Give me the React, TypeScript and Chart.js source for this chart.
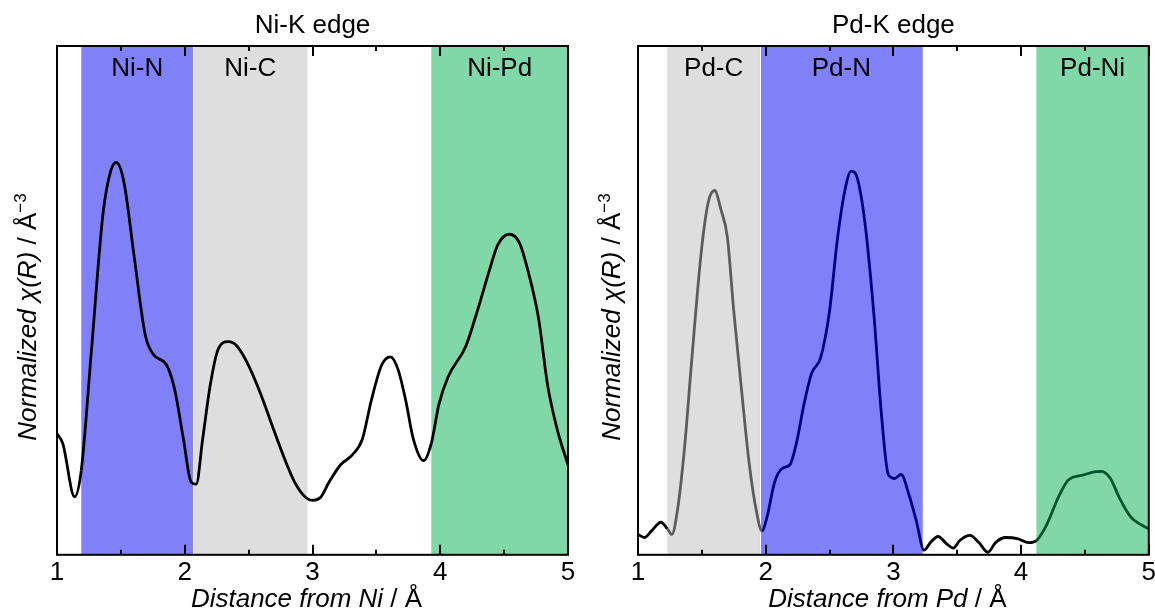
import React, { useEffect, useRef } from "react";
import { Chart, registerables } from "chart.js";

Chart.register(...registerables);

// ---------- data ----------
const niX = [1.0, 1.045, 1.138, 1.19, 1.27, 1.36, 1.42, 1.465, 1.525, 1.6, 1.69, 1.75, 1.86, 1.92, 1.99, 2.05, 2.09, 2.14, 2.2, 2.26, 2.34, 2.41, 2.5, 2.59, 2.68, 2.77, 2.86, 2.95, 3.0, 3.06, 3.13, 3.22, 3.31, 3.39, 3.46, 3.54, 3.61, 3.67, 3.73, 3.79, 3.87, 3.93, 3.99, 4.06, 4.2, 4.29, 4.38, 4.45, 4.54, 4.62, 4.69, 4.77, 4.84, 4.92, 5.0];
const niY = [23.8, 21.9, 11.4, 16.6, 40.3, 67, 75.4, 77.1, 73.1, 59.4, 43.3, 39.5, 37.2, 32.6, 22.7, 14.3, 13.9, 22.7, 33.4, 40.3, 41.9, 41, 37.2, 31.9, 25.7, 19.6, 14.3, 11.2, 10.7, 11.2, 14.3, 17.7, 19.6, 22.7, 30.3, 37.2, 38.9, 36.4, 30.3, 22.7, 18.5, 21.9, 29.6, 34.9, 41, 47.9, 55.5, 60.9, 63, 61.3, 55.5, 46.4, 33.4, 24.2, 17.7];

const pdX = [1.0, 1.05, 1.106, 1.18, 1.23, 1.265, 1.31, 1.365, 1.42, 1.495, 1.55, 1.6, 1.65, 1.7, 1.75, 1.81, 1.87, 1.93, 1.97, 2.01, 2.07, 2.13, 2.19, 2.24, 2.3, 2.36, 2.43, 2.5, 2.56, 2.62, 2.67, 2.72, 2.78, 2.85, 2.905, 2.96, 3.01, 3.06, 3.12, 3.18, 3.24, 3.29, 3.35, 3.42, 3.47, 3.52, 3.6, 3.67, 3.74, 3.8, 3.88, 3.97, 4.06, 4.12, 4.2, 4.29, 4.37, 4.49, 4.57, 4.63, 4.7, 4.77, 4.86, 4.94, 5.0];
const pdY = [4.0, 3.4, 4.7, 6.4, 5.1, 4.0, 8.9, 21.2, 38, 59.4, 69.3, 71.6, 67.8, 62.4, 47.9, 32.6, 18.1, 8.2, 4.7, 7.4, 14.3, 17, 17.7, 21.9, 29.6, 35.7, 38.7, 47.9, 61.7, 71.6, 75.4, 73.8, 64.7, 46.4, 28, 15.8, 15, 15.8, 12, 6.6, 0.9, 2.4, 3.6, 2.1, 1.3, 2.8, 3.8, 2.4, 0.5, 2.4, 3.4, 3.2, 2.4, 2.8, 5.9, 11.2, 14.7, 15.7, 16.3, 16.4, 15, 11.2, 7.4, 5.9, 5.1];

const xTicks = [1, 2, 3, 4, 5];
const xMinorTicks = [1.5, 2.5, 3.5, 4.5];

const niBandStart = [1.19, 2.065, 3.93];
const niBandEnd = [2.065, 2.96, 5.0];
const niBandLabels = ["Ni-N", "Ni-C", "Ni-Pd"];

const pdBandStart = [1.23, 1.955, 4.12];
const pdBandEnd = [1.955, 3.23, 5.0];
const pdBandLabels = ["Pd-C", "Pd-N", "Pd-Ni"];

// ---------- styles ----------
const BLUE = "#8080f8";
const GRAY = "#dedede";
const GREEN = "#80d7a8";
const niBandFill = [BLUE, GRAY, GREEN];
const niBandLine = ["#000000", "#000000", "#000000"];
const pdBandFill = [GRAY, BLUE, GREEN];
const pdBandLine = ["#5c5c5c", "#000080", "#00522b"];

const FONT = '"Liberation Sans", Arial, "DejaVu Sans", sans-serif';

type Panel = {
  xs: number[];
  ys: number[];
  starts: number[];
  ends: number[];
  labels: string[];
  fills: string[];
  lines: string[];
  title: string;
  xTitleItalic: string;
  padLeft: number;
  padRight: number;
  yTitleGap: number;
};

function makePlugin(p: Panel) {
  return {
    id: "decor",
    beforeDatasetsDraw(chart: any) {
      const { ctx, chartArea: a, scales } = chart;
      const xs = scales.x;
      ctx.save();
      for (let i = 0; i < p.starts.length; i++) {
        const x0 = xs.getPixelForValue(p.starts[i]);
        const x1 = xs.getPixelForValue(p.ends[i]);
        ctx.fillStyle = p.fills[i];
        ctx.fillRect(x0, a.top, x1 - x0, a.bottom - a.top);
      }
      ctx.strokeStyle = "#ffffff";
      ctx.lineWidth = 1;
      for (let i = 1; i < p.starts.length; i++) {
        if (Math.abs(p.starts[i] - p.ends[i - 1]) < 1e-6) {
          const x = Math.round(xs.getPixelForValue(p.starts[i])) + 0.5;
          ctx.beginPath();
          ctx.moveTo(x, a.top);
          ctx.lineTo(x, a.bottom);
          ctx.stroke();
        }
      }
      ctx.fillStyle = "#000";
      ctx.font = `26px ${FONT}`;
      ctx.textAlign = "center";
      ctx.textBaseline = "alphabetic";
      for (let i = 0; i < p.starts.length; i++) {
        const cx = (xs.getPixelForValue(p.starts[i]) + xs.getPixelForValue(p.ends[i])) / 2;
        ctx.fillText(p.labels[i], cx, a.top + 30);
      }
      ctx.restore();
    },
    afterDraw(chart: any) {
      const { ctx, chartArea: a, scales } = chart;
      const xs = scales.x;
      ctx.save();
      ctx.strokeStyle = "#000";
      ctx.lineWidth = 2;
      ctx.strokeRect(a.left, a.top, a.right - a.left, a.bottom - a.top);
      const drawTick = (v: number, len: number) => {
        const x = Math.round(xs.getPixelForValue(v));
        ctx.beginPath();
        ctx.moveTo(x, a.bottom);
        ctx.lineTo(x, a.bottom - len);
        ctx.moveTo(x, a.top);
        ctx.lineTo(x, a.top + len);
        ctx.stroke();
      };
      xs.ticks.forEach((t: any) => drawTick(t.value, 10));
      xMinorTicks.forEach((v) => drawTick(v, 5));

      ctx.fillStyle = "#000";
      ctx.textAlign = "center";
      ctx.textBaseline = "alphabetic";
      ctx.font = `26px ${FONT}`;
      const cx = (a.left + a.right) / 2;
      ctx.fillText(p.title, cx, 33);

      const it = `italic 26px ${FONT}`;
      const rg = `26px ${FONT}`;
      const xParts = [
        { t: p.xTitleItalic, f: it },
        { t: " / Å", f: rg },
      ];
      let w = 0;
      xParts.forEach((q) => {
        ctx.font = q.f;
        w += ctx.measureText(q.t).width;
      });
      ctx.textAlign = "left";
      let x = cx - 6 - w / 2;
      xParts.forEach((q) => {
        ctx.font = q.f;
        ctx.fillText(q.t, x, 607);
        x += ctx.measureText(q.t).width;
      });

      const yParts = [
        { t: "Normalized χ(R)", f: it, dy: 0 },
        { t: " / Å", f: rg, dy: 0 },
        { t: "−3", f: `17px ${FONT}`, dy: -10 },
      ];
      let yw = 0;
      yParts.forEach((q) => {
        ctx.font = q.f;
        yw += ctx.measureText(q.t).width;
      });
      ctx.translate(a.left - p.yTitleGap, 317);
      ctx.rotate(-Math.PI / 2);
      let px = -yw / 2;
      yParts.forEach((q) => {
        ctx.font = q.f;
        ctx.fillText(q.t, px, q.dy);
        px += ctx.measureText(q.t).width;
      });
      ctx.restore();
    },
  };
}

function bandIndex(p: Panel, v: number) {
  for (let i = 0; i < p.starts.length; i++) {
    if (v >= p.starts[i] && v <= p.ends[i]) return i;
  }
  return -1;
}

function PanelChart({ p, width }: { p: Panel; width: number }) {
  const ref = useRef<HTMLCanvasElement | null>(null);
  useEffect(() => {
    if (!ref.current) return;
    const data = p.xs.map((x, i) => ({ x, y: p.ys[i] }));
    const chart = new Chart(ref.current, {
      type: "line",
      data: {
        datasets: [
          {
            data,
            borderColor: "#000",
            borderWidth: 2.8,
            pointRadius: 0,
            fill: false,
            cubicInterpolationMode: "monotone",
            segment: {
              borderColor: (ctx: any) => {
                const mid = (ctx.p0.parsed.x + ctx.p1.parsed.x) / 2;
                const i = bandIndex(p, mid);
                return i < 0 ? "#000" : p.lines[i];
              },
            },
          } as any,
        ],
      },
      options: {
        animation: false,
        responsive: false,
        maintainAspectRatio: false,
        layout: { padding: { left: p.padLeft, right: p.padRight, top: 46, bottom: 20 } },
        plugins: { legend: { display: false }, tooltip: { enabled: false }, title: { display: false } },
        scales: {
          x: {
            type: "linear",
            min: 1,
            max: 5,
            afterBuildTicks: (s: any) => {
              s.ticks = xTicks.map((v) => ({ value: v }));
            },
            grid: { display: false, drawTicks: false },
            border: { display: false },
            ticks: {
              color: "#000",
              font: { family: FONT, size: 26 },
              padding: 2,
              maxRotation: 0,
              autoSkip: false,
            },
          },
          y: { display: false, min: 0, max: 100 },
        },
      },
      plugins: [makePlugin(p)],
    } as any);
    return () => chart.destroy();
  }, []);
  return <canvas ref={ref} width={width} height={610} style={{ display: "block", width, height: 610, flex: "none" }} />;
}

const leftPanel: Panel = {
  xs: niX,
  ys: niY,
  starts: niBandStart,
  ends: niBandEnd,
  labels: niBandLabels,
  fills: niBandFill,
  lines: niBandLine,
  title: "Ni-K edge",
  xTitleItalic: "Distance from Ni",
  padLeft: 57,
  padRight: 10,
  yTitleGap: 21,
};

const rightPanel: Panel = {
  xs: pdX,
  ys: pdY,
  starts: pdBandStart,
  ends: pdBandEnd,
  labels: pdBandLabels,
  fills: pdBandFill,
  lines: pdBandLine,
  title: "Pd-K edge",
  xTitleItalic: "Distance from Pd",
  padLeft: 60,
  padRight: 7,
  yTitleGap: 18,
};

export default function App() {
  return (
    <div style={{ position: "absolute", left: 0, top: 0, width: 1155, height: 610, display: "flex", overflow: "hidden", background: "#fff" }}>
      <PanelChart p={leftPanel} width={578} />
      <PanelChart p={rightPanel} width={580} />
    </div>
  );
}
